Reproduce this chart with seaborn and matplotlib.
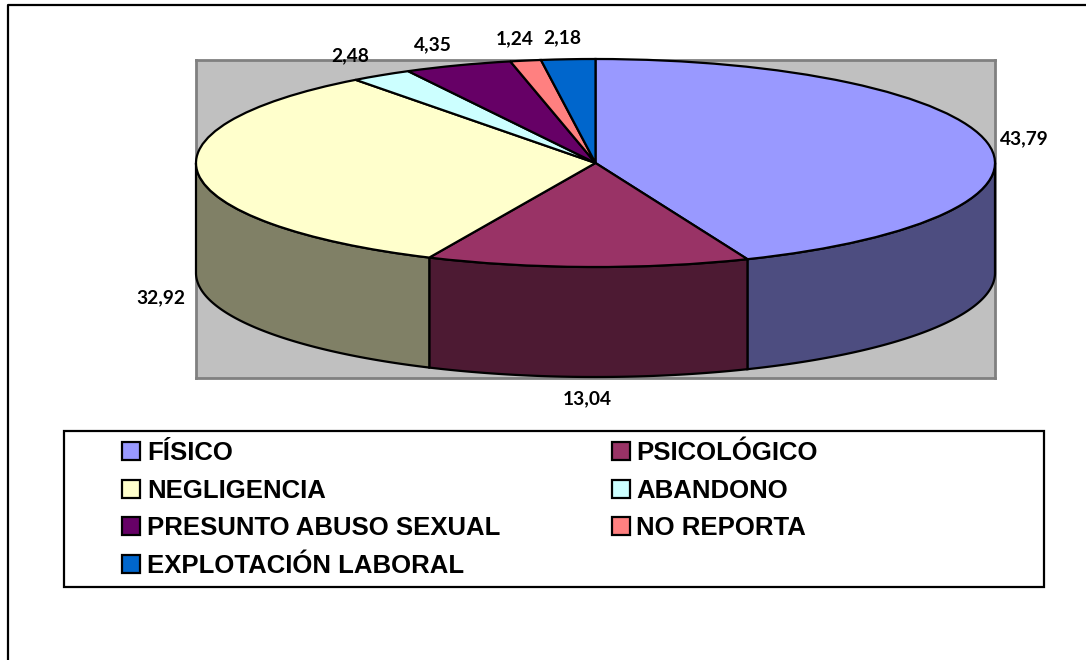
import numpy as np
import matplotlib
matplotlib.use("Agg")
import matplotlib.pyplot as plt
from matplotlib.lines import Line2D
from matplotlib.patches import Rectangle
import seaborn as sns

categories = ["FÍSICO", "PSICOLÓGICO", "NEGLIGENCIA", "ABANDONO",
              "PRESUNTO ABUSO SEXUAL", "NO REPORTA", "EXPLOTACIÓN LABORAL"]
values = [43.79, 13.04, 32.92, 2.48, 4.35, 1.24, 2.18]
colors = ["#9999FF", "#993366", "#FFFFCC", "#CCFFFF", "#660066", "#FF8080", "#0066CC"]
# label centres in figure pixels
label_px = [(1024, 139), (587, 399), (161, 298), (350, 56), (433, 45), (515, 39), (562, 38)]

W, H = 1086, 660
sns.set_theme(style="white")
palette = sns.color_palette(colors)
fig = plt.figure(figsize=(W / 100, H / 100), dpi=100, facecolor="white")

# plot-area rectangle in pixels and pie geometry
L, R, T, B = 196, 995, 60, 378
CY, RY, DEPTH = 163, 104, 110
ax = fig.add_axes([L / W, 1 - B / H, (R - L) / W, (B - T) / H])

wedges, _ = ax.pie(values, colors=palette, startangle=90, counterclock=False, radius=1,
                   center=(0, 0), wedgeprops=dict(edgecolor="black", linewidth=1.6, clip_on=False))
ax.set_aspect("auto")
ax.set_xlim(-1, 1)
ax.set_ylim(-(B - CY) / RY, (CY - T) / RY)
ax.set_frame_on(True)
ax.set_facecolor("#C0C0C0")
for s in ax.spines.values():
    s.set_color("#808080")
    s.set_linewidth(2)
    s.set_zorder(0)
    s.set_visible(True)

# side walls of the visible (front) half
d = DEPTH / RY
edges = np.concatenate([[0], np.cumsum(values)]) / np.sum(values) * 360
for a0, a1, c in zip(edges[:-1], edges[1:], palette):
    lo, hi = max(a0, 90), min(a1, 270)
    if hi <= lo:
        continue
    t = np.radians(np.linspace(lo, hi, 120))
    x, y = np.sin(t), np.cos(t)
    dark = tuple(v * 0.5 for v in c)
    ax.fill(np.r_[x, x[::-1]], np.r_[y, y[::-1] - d], facecolor=dark, edgecolor="black",
            linewidth=1.6, clip_on=False, zorder=0.5)

for (px, py), v in zip(label_px, values):
    fig.text(px / W, 1 - py / H, f"{v:.2f}".replace(".", ","), ha="center", va="center",
             family="Lato", weight="bold", fontsize=13.8, color="black")

# legend box
fig.add_artist(Rectangle((64 / W, 1 - 587 / H), (1044 - 64) / W, (587 - 431) / H,
                         transform=fig.transFigure, facecolor="white", edgecolor="black", linewidth=1.6))
order = [0, 2, 4, 6, 1, 3, 5]
leg = fig.legend([wedges[i] for i in order], [categories[i] for i in order], ncols=2,
                 loc="upper left", bbox_to_anchor=(122 / W, 1 - 441 / H), frameon=False,
                 borderpad=0, borderaxespad=0, handlelength=0.7, handleheight=0.7,
                 handletextpad=0.27, labelspacing=0.53, columnspacing=4.33,
                 labelcolor="black",
                 prop=dict(family="Liberation Sans", weight="bold", size=18.5))
leg.set_zorder(5)

# chart-area frame (left and top edges fall inside the image)
fig.add_artist(Line2D([8 / W, 8 / W, 1], [0, 1 - 5 / H, 1 - 5 / H], transform=fig.transFigure,
                      color="black", linewidth=1.6))
sns.despine(ax=ax, top=False, right=False, left=False, bottom=False)
fig.savefig("out.png", dpi=100)
